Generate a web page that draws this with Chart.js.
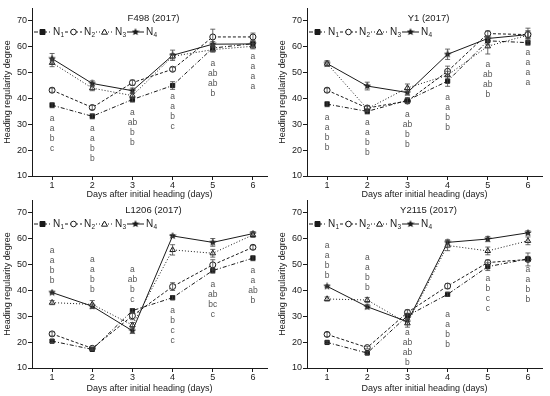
<!DOCTYPE html>
<html>
<head>
<meta charset="utf-8">
<script src="https://cdn.jsdelivr.net/npm/chart.js@4/dist/chart.umd.min.js"></script>
<style>
  body { margin: 0; background: #fff; }
  #wrap { position: relative; width: 550px; height: 396px; overflow: hidden; }
  canvas { position: absolute; }
</style>
</head>
<body>
<div id="wrap">
  <canvas id="c1" width="275" height="202" style="left:0;top:0"></canvas>
  <canvas id="c2" width="275" height="202" style="left:275px;top:0"></canvas>
  <canvas id="c3" width="275" height="204" style="left:0;top:192px"></canvas>
  <canvas id="c4" width="275" height="204" style="left:275px;top:192px"></canvas>
</div>
<script>
const days = [1, 2, 3, 4, 5, 6];
const seriesNames = ['N1', 'N2', 'N3', 'N4'];

// F498 (2017)
const f498N1 = [37.4, 33.1, 39.6, 45.0, 59.5, 61.2];
const f498N2 = [43.2, 36.5, 46.1, 51.3, 63.8, 63.8];
const f498N3 = [53.8, 44.0, 41.1, 56.3, 58.9, 60.2];
const f498N4 = [55.4, 45.8, 43.0, 56.7, 61.0, 61.1];
const f498Err = [[1, 1, 1, 1.5, 1, 1], [0.8, 0.8, 1, 0.8, 3, 1.5], [1.5, 1, 1, 1, 1, 1], [2, 1, 1, 2, 1, 1]];
const f498Letters = [['a','a','b','c'], ['a','a','b','b'], ['a','ab','b','b'], ['a','a','b','c'], ['a','ab','ab','b'], ['a','a','a','a']];
const f498LetterTop = [32.3, 28.3, 34.4, 40.6, 53.5, 56.1];

// Y1 (2017)
const y1N1 = [37.8, 35.0, 39.3, 46.7, 62.3, 61.6];
const y1N2 = [43.2, 36.3, 39.0, 50.5, 65.1, 64.7];
const y1N3 = [53.5, 36.0, 44.1, 49.0, 60.2, 64.5];
const y1N4 = [53.5, 44.8, 42.3, 57.1, 63.2, 64.7];
const y1Err = [[1, 1, 1, 2, 1.5, 1], [0.8, 1, 1, 2, 1, 1.5], [1, 1, 1.5, 1.5, 3, 1.5], [1, 1.5, 1, 2, 1, 2.5]];
const y1Letters = [['a','a','b','b'], ['a','a','b','b'], ['a','ab','b','b'], ['a','a','b','b'], ['a','ab','ab','b'], ['a','a','a','a']];
const y1LetterTop = [32.6, 30.6, 33.9, 40.3, 53.2, 57.6];

// L1206 (2017)
const l1206N1 = [20.4, 17.2, 32.2, 37.2, 47.7, 52.5];
const l1206N2 = [23.2, 17.6, 30.2, 41.5, 49.9, 56.7];
const l1206N3 = [35.3, 34.6, 26.6, 55.7, 54.4, 61.5];
const l1206N4 = [39.2, 33.9, 24.4, 61.1, 58.6, 62.0];
const l1206Err = [[0.5, 0.5, 0.8, 0.8, 1, 1], [0.8, 0.5, 1.5, 1.5, 2, 0.8], [0.8, 1.5, 1, 2, 1.5, 1], [0.5, 0.8, 1, 0.5, 1.5, 0.8]];
const l1206Letters = [['a','a','b','b'], ['a','a','b','b'], ['a','ab','b','c'], ['a','b','c','c'], ['a','ab','bc','c'], ['a','a','ab','b']];
const l1206LetterTop = [55.4, 51.9, 48.2, 32.1, 42.4, 47.5];

// Y2115 (2017)
const y2115N1 = [19.9, 15.8, 30.2, 38.5, 49.2, 52.2];
const y2115N2 = [23.0, 17.9, 31.5, 41.7, 50.8, 52.0];
const y2115N3 = [36.7, 36.3, 27.3, 57.4, 55.3, 59.2];
const y2115N4 = [41.6, 33.7, 27.9, 58.6, 59.9, 62.3];
const y2115Err = [[0.5, 0.5, 1, 0.8, 1.5, 1], [0.8, 0.5, 1, 1, 1, 2.5], [0.8, 1, 1.5, 2, 1.5, 1.5], [0.5, 0.8, 1, 1, 1, 0.8]];
const y2115Letters = [['a','a','b','b'], ['a','a','b','b'], ['a','ab','ab','b'], ['a','a','b','b'], ['a','b','c','c'], ['a','a','b','b']];
const y2115LetterTop = [57.4, 52.5, 23.8, 30.8, 44.7, 47.9];

const FONT = '"Liberation Sans", Arial, sans-serif';
const INK = '#1a1a1a';

// filled star marker for N4
function makeStar(size) {
  const c = document.createElement('canvas');
  c.width = size; c.height = size;
  const g = c.getContext('2d');
  const cx = size / 2, cy = size / 2, R = size / 2, r = R * 0.45;
  g.beginPath();
  for (let i = 0; i < 10; i++) {
    const a = -Math.PI / 2 + i * Math.PI / 5;
    const rr = i % 2 ? r : R;
    g.lineTo(cx + rr * Math.cos(a), cy + rr * Math.sin(a));
  }
  g.closePath();
  g.fillStyle = INK;
  g.fill();
  return c;
}
const star = makeStar(8);

const styles = [
  { dash: [4, 2, 1, 2], pointStyle: 'rect',     fill: INK,    radius: 3 },
  { dash: [3, 2],       pointStyle: 'circle',   fill: '#fff', radius: 3 },
  { dash: [1, 2],       pointStyle: 'triangle', fill: '#fff', radius: 3.2 },
  { dash: [],           pointStyle: star,       fill: INK,    radius: 3 },
];

const panelDeco = {
  id: 'panelDeco',
  afterDatasetsDraw(chart, args, opts) {
    const { ctx, scales: { x, y } } = chart;
    ctx.save();
    // error bars
    ctx.strokeStyle = '#444';
    ctx.lineWidth = 0.8;
    opts.err.forEach((e, si) => {
      opts.values[si].forEach((v, i) => {
        const px = x.getPixelForValue(days[i]);
        const y1 = y.getPixelForValue(v + e[i]), y2 = y.getPixelForValue(v - e[i]);
        ctx.beginPath();
        ctx.moveTo(px, y1); ctx.lineTo(px, y2);
        ctx.moveTo(px - 2.5, y1); ctx.lineTo(px + 2.5, y1);
        ctx.moveTo(px - 2.5, y2); ctx.lineTo(px + 2.5, y2);
        ctx.stroke();
      });
    });
    ctx.restore();
  },
  afterDraw(chart, args, opts) {
    const { ctx, chartArea, scales: { x, y } } = chart;
    ctx.save();
    // significance letters
    ctx.fillStyle = '#555';
    ctx.font = '8.5px ' + FONT;
    ctx.textAlign = 'center';
    ctx.textBaseline = 'middle';
    opts.letters.forEach((grp, i) => {
      const px = x.getPixelForValue(days[i]);
      const top = y.getPixelForValue(opts.letterTop[i]);
      grp.forEach((s, k) => ctx.fillText(s, px, top + k * 10));
    });
    // panel title
    ctx.fillStyle = INK;
    ctx.font = '9.5px ' + FONT;
    ctx.fillText(opts.title, (chartArea.left + chartArea.right) / 2 + 4, chartArea.top + 10);
    // legend
    const ly = chartArea.top + 24;
    styles.forEach((st, i) => {
      const x0 = chartArea.left + 2 + i * 31;
      ctx.strokeStyle = INK;
      ctx.lineWidth = 1;
      ctx.setLineDash(st.dash);
      ctx.beginPath();
      ctx.moveTo(x0, ly); ctx.lineTo(x0 + 17, ly);
      ctx.stroke();
      ctx.setLineDash([]);
      const mx = x0 + 8.5;
      ctx.fillStyle = st.fill;
      ctx.beginPath();
      if (i === 0) ctx.rect(mx - 2.5, ly - 2.5, 5, 5);
      else if (i === 1) ctx.arc(mx, ly, 2.8, 0, Math.PI * 2);
      else if (i === 2) { ctx.moveTo(mx, ly - 3); ctx.lineTo(mx + 3, ly + 2.2); ctx.lineTo(mx - 3, ly + 2.2); ctx.closePath(); }
      if (i < 3) { ctx.fill(); ctx.stroke(); }
      else ctx.drawImage(star, mx - 4, ly - 4);
      ctx.fillStyle = INK;
      ctx.textAlign = 'left';
      ctx.font = '10px ' + FONT;
      ctx.fillText('N', x0 + 19, ly);
      ctx.font = '6.5px ' + FONT;
      ctx.fillText(String(i + 1), x0 + 26.5, ly + 3.5);
    });
    ctx.restore();
  }
};

function makePanel(id, title, values, err, letters, letterTop, xHeight) {
  new Chart(document.getElementById(id), {
    type: 'line',
    data: {
      datasets: values.map((vals, si) => ({
        label: seriesNames[si],
        data: vals.map((v, i) => ({ x: days[i], y: v })),
        borderColor: INK,
        borderWidth: 1,
        borderDash: styles[si].dash,
        pointStyle: styles[si].pointStyle,
        pointRadius: styles[si].radius,
        pointBackgroundColor: styles[si].fill,
        pointBorderColor: INK,
        pointBorderWidth: 1,
        tension: 0,
      })),
    },
    options: {
      responsive: false,
      animation: false,
      events: [],
      layout: { padding: { top: 8, right: 8, left: 0, bottom: 0 } },
      plugins: {
        legend: { display: false },
        tooltip: { enabled: false },
        panelDeco: { title, values, err, letters, letterTop },
      },
      scales: {
        x: {
          type: 'linear',
          min: 0.5, max: 6.35,
          afterFit: s => { s.height = xHeight; },
          afterBuildTicks: s => { s.ticks = days.map(v => ({ value: v })); },
          ticks: { color: INK, font: { family: FONT, size: 9 }, padding: 0 },
          grid: { drawOnChartArea: false, tickLength: 4, color: INK },
          border: { color: INK, width: 1 },
          title: { display: true, text: 'Days after initial heading (days)', color: INK,
                   font: { family: FONT, size: 9 }, padding: { top: 0, bottom: 2 } },
        },
        y: {
          min: 10, max: 75,
          afterFit: s => { s.width = 32; },
          afterBuildTicks: s => { s.ticks = s.ticks.filter(t => t.value % 10 === 0); },
          ticks: { stepSize: 10, color: INK, font: { family: FONT, size: 9 }, padding: 1 },
          grid: { drawOnChartArea: false, tickLength: 4, color: INK },
          border: { color: INK, width: 1 },
          title: { display: true, text: 'Heading regularity degree', color: INK,
                   font: { family: FONT, size: 9 }, padding: { top: 2, bottom: 0 } },
        },
      },
    },
    plugins: [panelDeco],
  });
}

makePanel('c1', 'F498 (2017)', [f498N1, f498N2, f498N3, f498N4], f498Err, f498Letters, f498LetterTop, 26);
makePanel('c2', 'Y1 (2017)', [y1N1, y1N2, y1N3, y1N4], y1Err, y1Letters, y1LetterTop, 26);
makePanel('c3', 'L1206 (2017)', [l1206N1, l1206N2, l1206N3, l1206N4], l1206Err, l1206Letters, l1206LetterTop, 28);
makePanel('c4', 'Y2115 (2017)', [y2115N1, y2115N2, y2115N3, y2115N4], y2115Err, y2115Letters, y2115LetterTop, 28);
</script>
</body>
</html>
